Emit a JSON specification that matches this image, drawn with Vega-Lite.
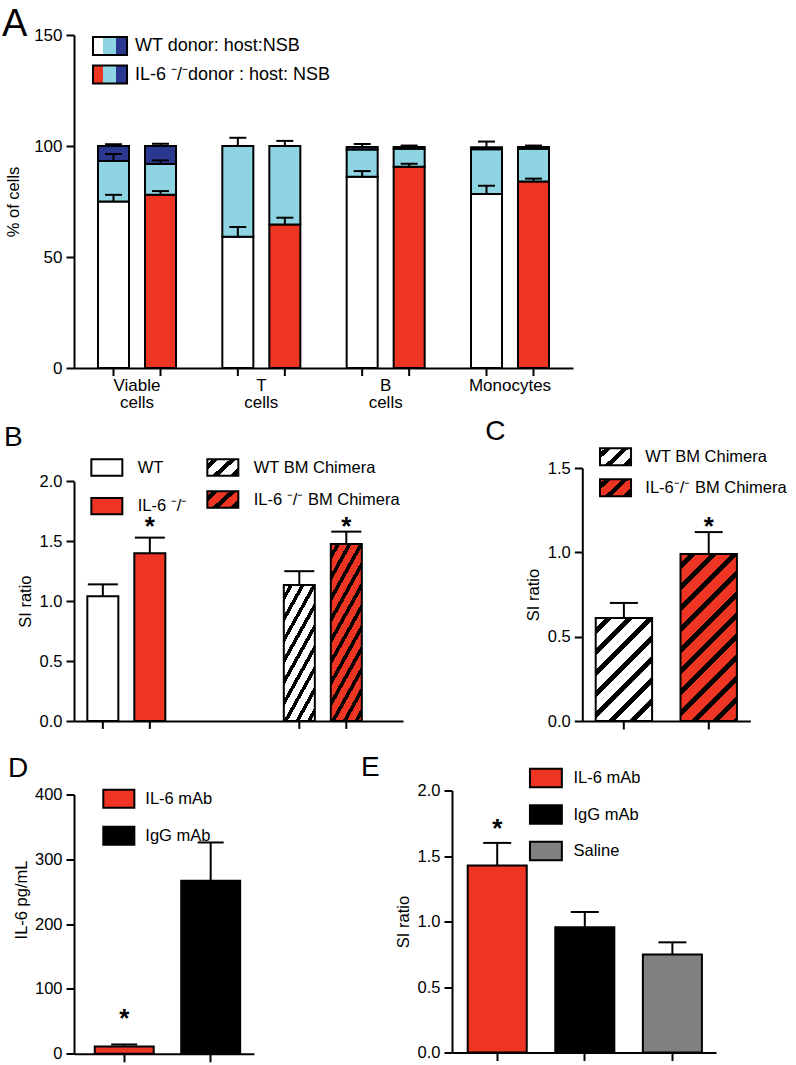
{
  "$schema": "https://vega.github.io/schema/vega-lite/v6.json",
  "background": "white",
  "padding": {"left": 2, "top": 5, "right": 0, "bottom": 0},
  "config": {
    "view": {"stroke": null},
    "font": "Liberation Sans",
    "axis": {"domainColor": "#000", "domainWidth": 2, "tickColor": "#000", "tickWidth": 2, "tickSize": 8, "labelColor": "#000", "labelFont": "Liberation Sans", "labelFontSize": 16.5, "labelPadding": 4, "titleFont": "Liberation Sans", "titleFontSize": 16.5, "titleFontWeight": "normal", "titleColor": "#000", "grid": false},
    "legend": {"labelFont": "Liberation Sans", "labelFontSize": 16.5, "labelColor": "#000", "labelLimit": 400, "symbolStrokeWidth": 2, "padding": 0},
    "title": {"font": "Liberation Sans", "fontWeight": "normal", "color": "#000", "anchor": "start", "frame": "group"}
  },
  "spacing": 23.5,
  "resolve": {"scale": {"fill": "independent", "shape": "independent", "color": "independent"}, "legend": {"fill": "independent", "shape": "independent", "color": "independent"}},
  "vconcat": [
    {
      "spacing": 7,
      "resolve": {"scale": {"fill": "independent", "shape": "independent", "color": "independent"}, "legend": {"fill": "independent", "shape": "independent", "color": "independent"}},
      "vconcat": [
        {
          "width": 499, "height": 333,
          "title": {"text": "A", "fontSize": 38, "dx": -72, "offset": -17.5},
          "data": {"values": [
            {"cell": "Viable cells", "donor": "WT", "seg": "WT donor", "lo": 0, "hi": 75, "err": 78},
            {"cell": "Viable cells", "donor": "WT", "seg": "host", "lo": 75, "hi": 93.2, "err": 96.4},
            {"cell": "Viable cells", "donor": "WT", "seg": "NSB", "lo": 93.2, "hi": 100, "err": 100.8},
            {"cell": "Viable cells", "donor": "IL-6", "seg": "IL-6 donor", "lo": 0, "hi": 78, "err": 79.7},
            {"cell": "Viable cells", "donor": "IL-6", "seg": "host", "lo": 78, "hi": 91.9, "err": 93.5},
            {"cell": "Viable cells", "donor": "IL-6", "seg": "NSB", "lo": 91.9, "hi": 100, "err": 101},
            {"cell": "T cells", "donor": "WT", "seg": "WT donor", "lo": 0, "hi": 59.1, "err": 63.5},
            {"cell": "T cells", "donor": "WT", "seg": "host", "lo": 59.1, "hi": 100, "err": 103.7},
            {"cell": "T cells", "donor": "IL-6", "seg": "IL-6 donor", "lo": 0, "hi": 64.6, "err": 67.7},
            {"cell": "T cells", "donor": "IL-6", "seg": "host", "lo": 64.6, "hi": 100, "err": 102.3},
            {"cell": "B cells", "donor": "WT", "seg": "WT donor", "lo": 0, "hi": 86.2, "err": 88.7},
            {"cell": "B cells", "donor": "WT", "seg": "host", "lo": 86.2, "hi": 98.4, "err": null},
            {"cell": "B cells", "donor": "WT", "seg": "NSB", "lo": 98.4, "hi": 99.5, "err": 100.9},
            {"cell": "B cells", "donor": "IL-6", "seg": "IL-6 donor", "lo": 0, "hi": 90.7, "err": 92},
            {"cell": "B cells", "donor": "IL-6", "seg": "host", "lo": 90.7, "hi": 98.8, "err": null},
            {"cell": "B cells", "donor": "IL-6", "seg": "NSB", "lo": 98.8, "hi": 99.6, "err": 100.2},
            {"cell": "Monocytes", "donor": "WT", "seg": "WT donor", "lo": 0, "hi": 78.4, "err": 82.1},
            {"cell": "Monocytes", "donor": "WT", "seg": "host", "lo": 78.4, "hi": 98.5, "err": null},
            {"cell": "Monocytes", "donor": "WT", "seg": "NSB", "lo": 98.5, "hi": 99.4, "err": 102},
            {"cell": "Monocytes", "donor": "IL-6", "seg": "IL-6 donor", "lo": 0, "hi": 84, "err": 85.3},
            {"cell": "Monocytes", "donor": "IL-6", "seg": "host", "lo": 84, "hi": 98.8, "err": null},
            {"cell": "Monocytes", "donor": "IL-6", "seg": "NSB", "lo": 98.8, "hi": 99.6, "err": 100.2}
          ]},
          "encoding": {
            "x": {"field": "cell", "type": "nominal", "scale": {"domain": ["Viable cells", "T cells", "B cells", "Monocytes"], "paddingInner": 0.3725, "paddingOuter": 0.193}, "axis": {"title": null, "ticks": false, "tickSize": 0, "labelAngle": 0, "labelFontSize": 17, "labelPadding": 9, "labelLineHeight": 17, "labelExpr": "split(datum.label, ' ')"}},
            "xOffset": {"field": "donor", "type": "nominal", "scale": {"domain": ["WT", "IL-6"], "paddingInner": 0.34, "paddingOuter": 0}}
          },
          "resolve": {"scale": {"shape": "independent"}, "legend": {"shape": "independent"}},
          "layer": [
            {"mark": {"type": "bar", "stroke": "#000", "strokeWidth": 2, "opacity": 1},
             "encoding": {
               "y": {"field": "lo", "type": "quantitative", "stack": null, "scale": {"domain": [0, 150], "nice": false}, "axis": {"title": "% of cells", "values": [0, 50, 100, 150], "titlePadding": 12, "labelFontSize": 17}},
               "y2": {"field": "hi"},
               "color": {"field": "seg", "type": "nominal", "scale": {"domain": ["WT donor", "IL-6 donor", "host", "NSB"], "range": ["#ffffff", "#ee3524", "#8ed4e3", "#2b388f"]}, "legend": null}
             }},
            {"transform": [{"filter": "isValid(datum.err)"}],
             "mark": {"type": "rule", "strokeWidth": 2, "color": "#000"},
             "encoding": {"y": {"field": "hi", "type": "quantitative", "scale": {"domain": [0, 150], "nice": false}}, "y2": {"field": "err"}}},
            {"transform": [{"filter": "isValid(datum.err)"}],
             "mark": {"type": "tick", "size": 17, "thickness": 2, "color": "#000", "opacity": 1},
             "encoding": {"y": {"field": "err", "type": "quantitative", "scale": {"domain": [0, 150], "nice": false}}}},
            {"transform": [{"filter": "datum.lo == 0"}],
             "mark": {"type": "rule", "strokeWidth": 2, "color": "#000"},
             "encoding": {"y": {"datum": 0, "type": "quantitative", "scale": {"domain": [0, 150], "nice": false}}, "y2": {"datum": -3.6}}},
            {"transform": [{"filter": "false"}],
             "mark": {"type": "point", "filled": true, "opacity": 1, "stroke": "#000", "strokeWidth": 2,
               "fill": {"gradient": "linear", "x1": 0, "y1": 0, "x2": 1, "y2": 0, "stops": [{"offset": 0, "color": "#ffffff"}, {"offset": 0.29, "color": "#ffffff"}, {"offset": 0.29, "color": "#8ed4e3"}, {"offset": 0.67, "color": "#8ed4e3"}, {"offset": 0.67, "color": "#2b388f"}, {"offset": 1, "color": "#2b388f"}]}},
             "encoding": {
               "shape": {"field": "seg", "type": "nominal", "scale": {"domain": ["WT donor: host:NSB"], "range": ["M-1,-1H2.78V1H-1Z"]},
                 "legend": {"orient": "none", "legendX": 18, "legendY": 1, "title": null, "symbolSize": 324, "labelFontSize": 18, "labelOffset": 23}}
             }},
            {"transform": [{"filter": "false"}],
             "mark": {"type": "point", "filled": true, "opacity": 1, "stroke": "#000", "strokeWidth": 2,
               "fill": {"gradient": "linear", "x1": 0, "y1": 0, "x2": 1, "y2": 0, "stops": [{"offset": 0, "color": "#ee3524"}, {"offset": 0.29, "color": "#ee3524"}, {"offset": 0.29, "color": "#8ed4e3"}, {"offset": 0.67, "color": "#8ed4e3"}, {"offset": 0.67, "color": "#2b388f"}, {"offset": 1, "color": "#2b388f"}]}},
             "encoding": {
               "shape": {"field": "seg", "type": "nominal", "scale": {"domain": ["IL-6 ⁻/⁻donor : host: NSB"], "range": ["M-1,-1H2.78V1H-1Z"]},
                 "legend": {"orient": "none", "legendX": 18, "legendY": 29.5, "title": null, "symbolSize": 324, "labelFontSize": 18, "labelOffset": 23}}
             }}
          ]
        },
        {
          "spacing": 179.3,
          "bounds": "flush",
          "center": true,
          "resolve": {"scale": {"fill": "independent", "shape": "independent", "color": "independent"}, "legend": {"fill": "independent", "shape": "independent", "color": "independent"}},
          "hconcat": [
            {
              "width": 329, "height": 253,
              "title": {"text": "B", "fontSize": 28, "dx": -70, "offset": 6},
              "data": {"values": [
                {"cond": "plain", "geno": "WT", "grp": "WT", "v": 1.04, "err": 1.14},
                {"cond": "plain", "geno": "IL-6", "grp": "IL-6 ⁻/⁻", "v": 1.40, "err": 1.53, "star": 1.68},
                {"cond": "BM", "geno": "WT", "grp": "WT BM Chimera", "v": 1.135, "err": 1.25},
                {"cond": "BM", "geno": "IL-6", "grp": "IL-6 ⁻/⁻ BM Chimera", "v": 1.476, "err": 1.58, "star": 1.68}
              ]},
              "encoding": {
                "x": {"field": "cond", "type": "nominal", "scale": {"domain": ["plain", "BM"], "paddingInner": 0.4275, "paddingOuter": 0.051, "align": 0.665}, "axis": {"title": null, "labels": false, "ticks": false, "tickSize": 0}},
                "xOffset": {"field": "geno", "type": "nominal", "scale": {"domain": ["WT", "IL-6"], "paddingInner": 0, "paddingOuter": 0}}
              },
              "resolve": {"scale": {"shape": "independent"}, "legend": {"shape": "independent"}},
              "layer": [
                {"transform": [{"filter": "datum.cond == 'plain'"}],
                 "mark": {"type": "bar", "stroke": "#000", "strokeWidth": 2, "opacity": 1},
                 "encoding": {
                   "y": {"field": "v", "type": "quantitative", "stack": null, "scale": {"domain": [0, 2], "nice": false, "range": [253, 13.3]}, "axis": {"title": "SI ratio", "values": [0, 0.5, 1, 1.5, 2], "format": ".1f", "titlePadding": 6}},
                   "fill": {"field": "grp", "type": "nominal",
                     "scale": {"domain": ["WT", "IL-6 ⁻/⁻"], "range": ["#ffffff", "#ee3524"]},
                     "legend": {"orient": "none", "legendX": 16, "legendY": -10, "title": null, "symbolType": "M-1,-1H2.8V1H-1Z", "symbolSize": 266, "symbolStrokeColor": "#000", "labelOffset": 28.7, "rowPadding": 13.7}}
                 }},
                {"transform": [{"filter": "datum.cond == 'BM' && datum.geno == 'WT'"}],
                 "mark": {"type": "bar", "stroke": "#000", "strokeWidth": 2, "opacity": 1,
                   "fill": {"gradient": "linear", "x1": 0, "y1": 0, "x2": 0.4963, "y2": 1.2072, "stops": [
                     {"offset": 0, "color": "#fff"},
                     {"offset": 0.05, "color": "#fff"}, {"offset": 0.05, "color": "#000"}, {"offset": 0.088, "color": "#000"}, {"offset": 0.088, "color": "#fff"},
                     {"offset": 0.159, "color": "#fff"}, {"offset": 0.159, "color": "#000"}, {"offset": 0.198, "color": "#000"}, {"offset": 0.198, "color": "#fff"},
                     {"offset": 0.269, "color": "#fff"}, {"offset": 0.269, "color": "#000"}, {"offset": 0.307, "color": "#000"}, {"offset": 0.307, "color": "#fff"},
                     {"offset": 0.378, "color": "#fff"}, {"offset": 0.378, "color": "#000"}, {"offset": 0.416, "color": "#000"}, {"offset": 0.416, "color": "#fff"},
                     {"offset": 0.487, "color": "#fff"}, {"offset": 0.487, "color": "#000"}, {"offset": 0.526, "color": "#000"}, {"offset": 0.526, "color": "#fff"},
                     {"offset": 0.597, "color": "#fff"}, {"offset": 0.597, "color": "#000"}, {"offset": 0.635, "color": "#000"}, {"offset": 0.635, "color": "#fff"},
                     {"offset": 0.706, "color": "#fff"}, {"offset": 0.706, "color": "#000"}, {"offset": 0.744, "color": "#000"}, {"offset": 0.744, "color": "#fff"},
                     {"offset": 0.815, "color": "#fff"}, {"offset": 0.815, "color": "#000"}, {"offset": 0.854, "color": "#000"}, {"offset": 0.854, "color": "#fff"},
                     {"offset": 0.925, "color": "#fff"}, {"offset": 0.925, "color": "#000"}, {"offset": 0.963, "color": "#000"}, {"offset": 0.963, "color": "#fff"},
                     {"offset": 1, "color": "#fff"}]}},
                 "encoding": {"y": {"field": "v", "type": "quantitative", "stack": null, "scale": {"domain": [0, 2], "nice": false, "range": [253, 13.3]}}}},
                {"transform": [{"filter": "datum.cond == 'BM' && datum.geno == 'IL-6'"}],
                 "mark": {"type": "bar", "stroke": "#000", "strokeWidth": 2, "opacity": 1,
                   "fill": {"gradient": "linear", "x1": 0, "y1": 0, "x2": 0.3784, "y2": 1.1966, "stops": [
                     {"offset": 0, "color": "#ee3524"},
                     {"offset": 0.04, "color": "#ee3524"}, {"offset": 0.04, "color": "#000"}, {"offset": 0.072, "color": "#000"}, {"offset": 0.072, "color": "#ee3524"},
                     {"offset": 0.13, "color": "#ee3524"}, {"offset": 0.13, "color": "#000"}, {"offset": 0.162, "color": "#000"}, {"offset": 0.162, "color": "#ee3524"},
                     {"offset": 0.22, "color": "#ee3524"}, {"offset": 0.22, "color": "#000"}, {"offset": 0.252, "color": "#000"}, {"offset": 0.252, "color": "#ee3524"},
                     {"offset": 0.31, "color": "#ee3524"}, {"offset": 0.31, "color": "#000"}, {"offset": 0.342, "color": "#000"}, {"offset": 0.342, "color": "#ee3524"},
                     {"offset": 0.4, "color": "#ee3524"}, {"offset": 0.4, "color": "#000"}, {"offset": 0.432, "color": "#000"}, {"offset": 0.432, "color": "#ee3524"},
                     {"offset": 0.491, "color": "#ee3524"}, {"offset": 0.491, "color": "#000"}, {"offset": 0.523, "color": "#000"}, {"offset": 0.523, "color": "#ee3524"},
                     {"offset": 0.581, "color": "#ee3524"}, {"offset": 0.581, "color": "#000"}, {"offset": 0.613, "color": "#000"}, {"offset": 0.613, "color": "#ee3524"},
                     {"offset": 0.671, "color": "#ee3524"}, {"offset": 0.671, "color": "#000"}, {"offset": 0.703, "color": "#000"}, {"offset": 0.703, "color": "#ee3524"},
                     {"offset": 0.761, "color": "#ee3524"}, {"offset": 0.761, "color": "#000"}, {"offset": 0.793, "color": "#000"}, {"offset": 0.793, "color": "#ee3524"},
                     {"offset": 0.851, "color": "#ee3524"}, {"offset": 0.851, "color": "#000"}, {"offset": 0.883, "color": "#000"}, {"offset": 0.883, "color": "#ee3524"},
                     {"offset": 0.941, "color": "#ee3524"}, {"offset": 0.941, "color": "#000"}, {"offset": 0.973, "color": "#000"}, {"offset": 0.973, "color": "#ee3524"},
                     {"offset": 1, "color": "#ee3524"}]}},
                 "encoding": {"y": {"field": "v", "type": "quantitative", "stack": null, "scale": {"domain": [0, 2], "nice": false, "range": [253, 13.3]}}}},
                {"mark": {"type": "rule", "strokeWidth": 2, "color": "#000"},
                 "encoding": {"y": {"field": "v", "type": "quantitative", "scale": {"domain": [0, 2], "nice": false, "range": [253, 13.3]}}, "y2": {"field": "err"}}},
                {"mark": {"type": "tick", "size": 30, "thickness": 2, "color": "#000", "opacity": 1},
                 "encoding": {"y": {"field": "err", "type": "quantitative", "scale": {"domain": [0, 2], "nice": false, "range": [253, 13.3]}}}},
                {"transform": [{"filter": "isValid(datum.star)"}],
                 "mark": {"type": "text", "text": "*", "fontSize": 26, "fontWeight": "bold", "baseline": "middle", "dy": 7, "color": "#000"},
                 "encoding": {"y": {"field": "star", "type": "quantitative", "scale": {"domain": [0, 2], "nice": false, "range": [253, 13.3]}}}},
                {"mark": {"type": "rule", "strokeWidth": 2, "color": "#000"},
                 "encoding": {"y": {"datum": 0, "type": "quantitative", "scale": {"domain": [0, 2], "nice": false, "range": [253, 13.3]}}, "y2": {"datum": -0.066}}},
                {"transform": [{"filter": "false"}],
                 "mark": {"type": "point", "filled": true, "opacity": 1, "stroke": "#000", "strokeWidth": 2,
                   "fill": {"gradient": "linear", "x1": 0, "y1": 0, "x2": 1.182, "y2": 0.686, "stops": [{"offset": 0, "color": "#fff"}, {"offset": 0.1, "color": "#fff"}, {"offset": 0.1, "color": "#000"}, {"offset": 0.23, "color": "#000"}, {"offset": 0.23, "color": "#fff"}, {"offset": 0.46, "color": "#fff"}, {"offset": 0.46, "color": "#000"}, {"offset": 0.59, "color": "#000"}, {"offset": 0.59, "color": "#fff"}, {"offset": 0.82, "color": "#fff"}, {"offset": 0.82, "color": "#000"}, {"offset": 0.95, "color": "#000"}, {"offset": 0.95, "color": "#fff"}, {"offset": 1, "color": "#fff"}]}},
                 "encoding": {"shape": {"field": "grp", "type": "nominal", "scale": {"domain": ["WT BM Chimera"], "range": ["M-1,-1H2.8V1H-1Z"]},
                   "legend": {"orient": "none", "legendX": 132, "legendY": -10, "title": null, "symbolSize": 266, "labelOffset": 28.7}}}},
                {"transform": [{"filter": "false"}],
                 "mark": {"type": "point", "filled": true, "opacity": 1, "stroke": "#000", "strokeWidth": 2,
                   "fill": {"gradient": "linear", "x1": 0, "y1": 0, "x2": 1.182, "y2": 0.686, "stops": [{"offset": 0, "color": "#ee3524"}, {"offset": 0.1, "color": "#ee3524"}, {"offset": 0.1, "color": "#000"}, {"offset": 0.23, "color": "#000"}, {"offset": 0.23, "color": "#ee3524"}, {"offset": 0.46, "color": "#ee3524"}, {"offset": 0.46, "color": "#000"}, {"offset": 0.59, "color": "#000"}, {"offset": 0.59, "color": "#ee3524"}, {"offset": 0.82, "color": "#ee3524"}, {"offset": 0.82, "color": "#000"}, {"offset": 0.95, "color": "#000"}, {"offset": 0.95, "color": "#ee3524"}, {"offset": 1, "color": "#ee3524"}]}},
                 "encoding": {"shape": {"field": "grp", "type": "nominal", "scale": {"domain": ["IL-6 ⁻/⁻ BM Chimera"], "range": ["M-1,-1H2.8V1H-1Z"]},
                   "legend": {"orient": "none", "legendX": 132, "legendY": 22, "title": null, "symbolSize": 266, "labelOffset": 28.7}}}}
              ]
            },
            {
              "width": 168, "height": 253,
              "title": {"text": "C", "fontSize": 28, "dx": -97, "offset": 1.7},
              "data": {"values": [
                {"geno": "WT", "grp": "WT BM Chimera", "v": 0.61, "err": 0.70},
                {"geno": "IL-6", "grp": "IL-6⁻/⁻ BM Chimera", "v": 0.99, "err": 1.12, "star": 1.19}
              ]},
              "encoding": {
                "x": {"field": "geno", "type": "nominal", "scale": {"domain": ["WT", "IL-6"], "paddingInner": 0.335, "paddingOuter": 0.158}, "axis": {"title": null, "labels": false}}
              },
              "resolve": {"scale": {"shape": "independent"}, "legend": {"shape": "independent"}},
              "layer": [
                {"transform": [{"filter": "datum.geno == 'WT'"}],
                 "mark": {"type": "bar", "stroke": "#000", "strokeWidth": 2, "opacity": 1,
                   "fill": {"gradient": "linear", "x1": 0, "y1": 0, "x2": 0.6536, "y2": 1.1903, "stops": [
                     {"offset": 0, "color": "#fff"},
                     {"offset": 0.06, "color": "#fff"}, {"offset": 0.06, "color": "#000"}, {"offset": 0.106, "color": "#000"}, {"offset": 0.106, "color": "#fff"},
                     {"offset": 0.192, "color": "#fff"}, {"offset": 0.192, "color": "#000"}, {"offset": 0.238, "color": "#000"}, {"offset": 0.238, "color": "#fff"},
                     {"offset": 0.323, "color": "#fff"}, {"offset": 0.323, "color": "#000"}, {"offset": 0.369, "color": "#000"}, {"offset": 0.369, "color": "#fff"},
                     {"offset": 0.455, "color": "#fff"}, {"offset": 0.455, "color": "#000"}, {"offset": 0.501, "color": "#000"}, {"offset": 0.501, "color": "#fff"},
                     {"offset": 0.587, "color": "#fff"}, {"offset": 0.587, "color": "#000"}, {"offset": 0.633, "color": "#000"}, {"offset": 0.633, "color": "#fff"},
                     {"offset": 0.719, "color": "#fff"}, {"offset": 0.719, "color": "#000"}, {"offset": 0.765, "color": "#000"}, {"offset": 0.765, "color": "#fff"},
                     {"offset": 0.85, "color": "#fff"}, {"offset": 0.85, "color": "#000"}, {"offset": 0.896, "color": "#000"}, {"offset": 0.896, "color": "#fff"},
                     {"offset": 0.982, "color": "#fff"}, {"offset": 0.982, "color": "#000"}, {"offset": 1, "color": "#000"}]}},
                 "encoding": {"y": {"field": "v", "type": "quantitative", "stack": null, "scale": {"domain": [0, 1.5], "nice": false}, "axis": {"title": "SI ratio", "values": [0, 0.5, 1, 1.5], "format": ".1f", "titlePadding": 6}}}},
                {"transform": [{"filter": "datum.geno == 'IL-6'"}],
                 "mark": {"type": "bar", "stroke": "#000", "strokeWidth": 2, "opacity": 1,
                   "fill": {"gradient": "linear", "x1": 0, "y1": 0, "x2": 0.4063, "y2": 1.2009, "stops": [
                     {"offset": 0, "color": "#ee3524"},
                     {"offset": 0.04, "color": "#ee3524"}, {"offset": 0.04, "color": "#000"}, {"offset": 0.073, "color": "#000"}, {"offset": 0.073, "color": "#ee3524"},
                     {"offset": 0.134, "color": "#ee3524"}, {"offset": 0.134, "color": "#000"}, {"offset": 0.167, "color": "#000"}, {"offset": 0.167, "color": "#ee3524"},
                     {"offset": 0.228, "color": "#ee3524"}, {"offset": 0.228, "color": "#000"}, {"offset": 0.261, "color": "#000"}, {"offset": 0.261, "color": "#ee3524"},
                     {"offset": 0.322, "color": "#ee3524"}, {"offset": 0.322, "color": "#000"}, {"offset": 0.355, "color": "#000"}, {"offset": 0.355, "color": "#ee3524"},
                     {"offset": 0.416, "color": "#ee3524"}, {"offset": 0.416, "color": "#000"}, {"offset": 0.449, "color": "#000"}, {"offset": 0.449, "color": "#ee3524"},
                     {"offset": 0.51, "color": "#ee3524"}, {"offset": 0.51, "color": "#000"}, {"offset": 0.543, "color": "#000"}, {"offset": 0.543, "color": "#ee3524"},
                     {"offset": 0.604, "color": "#ee3524"}, {"offset": 0.604, "color": "#000"}, {"offset": 0.637, "color": "#000"}, {"offset": 0.637, "color": "#ee3524"},
                     {"offset": 0.698, "color": "#ee3524"}, {"offset": 0.698, "color": "#000"}, {"offset": 0.731, "color": "#000"}, {"offset": 0.731, "color": "#ee3524"},
                     {"offset": 0.792, "color": "#ee3524"}, {"offset": 0.792, "color": "#000"}, {"offset": 0.825, "color": "#000"}, {"offset": 0.825, "color": "#ee3524"},
                     {"offset": 0.886, "color": "#ee3524"}, {"offset": 0.886, "color": "#000"}, {"offset": 0.919, "color": "#000"}, {"offset": 0.919, "color": "#ee3524"},
                     {"offset": 0.98, "color": "#ee3524"}, {"offset": 0.98, "color": "#000"}, {"offset": 1, "color": "#000"}]}},
                 "encoding": {"y": {"field": "v", "type": "quantitative", "stack": null, "scale": {"domain": [0, 1.5], "nice": false}}}},
                {"mark": {"type": "rule", "strokeWidth": 2, "color": "#000"},
                 "encoding": {"y": {"field": "v", "type": "quantitative", "scale": {"domain": [0, 1.5], "nice": false}}, "y2": {"field": "err"}}},
                {"mark": {"type": "tick", "size": 28, "thickness": 2, "color": "#000", "opacity": 1},
                 "encoding": {"y": {"field": "err", "type": "quantitative", "scale": {"domain": [0, 1.5], "nice": false}}}},
                {"transform": [{"filter": "isValid(datum.star)"}],
                 "mark": {"type": "text", "text": "*", "fontSize": 26, "fontWeight": "bold", "baseline": "middle", "dy": 7, "color": "#000"},
                 "encoding": {"y": {"field": "star", "type": "quantitative", "scale": {"domain": [0, 1.5], "nice": false}}}},
                {"transform": [{"filter": "false"}],
                 "mark": {"type": "point", "filled": true, "opacity": 1, "stroke": "#000", "strokeWidth": 2,
                   "fill": {"gradient": "linear", "x1": 0, "y1": 0, "x2": 1.182, "y2": 0.686, "stops": [{"offset": 0, "color": "#fff"}, {"offset": 0.1, "color": "#fff"}, {"offset": 0.1, "color": "#000"}, {"offset": 0.23, "color": "#000"}, {"offset": 0.23, "color": "#fff"}, {"offset": 0.46, "color": "#fff"}, {"offset": 0.46, "color": "#000"}, {"offset": 0.59, "color": "#000"}, {"offset": 0.59, "color": "#fff"}, {"offset": 0.82, "color": "#fff"}, {"offset": 0.82, "color": "#000"}, {"offset": 0.95, "color": "#000"}, {"offset": 0.95, "color": "#fff"}, {"offset": 1, "color": "#fff"}]}},
                 "encoding": {"shape": {"field": "grp", "type": "nominal", "scale": {"domain": ["WT BM Chimera"], "range": ["M-1,-1H2.65V1H-1Z"]},
                   "legend": {"orient": "none", "legendX": 16.7, "legendY": -20.8, "title": null, "symbolSize": 289, "labelOffset": 27.3}}}},
                {"transform": [{"filter": "false"}],
                 "mark": {"type": "point", "filled": true, "opacity": 1, "stroke": "#000", "strokeWidth": 2,
                   "fill": {"gradient": "linear", "x1": 0, "y1": 0, "x2": 1.182, "y2": 0.686, "stops": [{"offset": 0, "color": "#ee3524"}, {"offset": 0.1, "color": "#ee3524"}, {"offset": 0.1, "color": "#000"}, {"offset": 0.23, "color": "#000"}, {"offset": 0.23, "color": "#ee3524"}, {"offset": 0.46, "color": "#ee3524"}, {"offset": 0.46, "color": "#000"}, {"offset": 0.59, "color": "#000"}, {"offset": 0.59, "color": "#ee3524"}, {"offset": 0.82, "color": "#ee3524"}, {"offset": 0.82, "color": "#000"}, {"offset": 0.95, "color": "#000"}, {"offset": 0.95, "color": "#ee3524"}, {"offset": 1, "color": "#ee3524"}]}},
                 "encoding": {"shape": {"field": "grp", "type": "nominal", "scale": {"domain": ["IL-6⁻/⁻ BM Chimera"], "range": ["M-1,-1H2.65V1H-1Z"]},
                   "legend": {"orient": "none", "legendX": 16.7, "legendY": 10.2, "title": null, "symbolSize": 289, "labelOffset": 27.3}}}}
              ]
            }
          ]
        }
      ]
    },
    {
      "spacing": 107,
      "align": "none",
      "resolve": {"scale": {"fill": "independent", "shape": "independent", "color": "independent"}, "legend": {"fill": "independent", "shape": "independent", "color": "independent"}},
      "hconcat": [
        {
          "width": 180, "height": 263.3,
          "title": {"text": "D", "fontSize": 28, "dx": -66, "offset": 4},
          "data": {"values": [
            {"trt": "IL-6 mAb", "v": 11.3, "err": 14.4, "star": 64},
            {"trt": "IgG mAb", "v": 267, "err": 326}
          ]},
          "encoding": {
            "x": {"field": "trt", "type": "nominal", "scale": {"domain": ["IL-6 mAb", "IgG mAb"], "paddingInner": 0.318, "paddingOuter": 0.2, "align": 0.6}, "axis": {"title": null, "labels": false}}
          },
          "layer": [
            {"mark": {"type": "bar", "stroke": "#000", "strokeWidth": 2, "opacity": 1},
             "encoding": {
               "y": {"field": "v", "type": "quantitative", "stack": null, "scale": {"domain": [0, 400], "nice": false, "range": [263.3, 4]}, "axis": {"title": "IL-6 pg/mL", "values": [0, 100, 200, 300, 400], "titlePadding": 5, "titleY": 109}},
               "fill": {"field": "trt", "type": "nominal", "scale": {"domain": ["IL-6 mAb", "IgG mAb"], "range": ["#ee3524", "#000000"]},
                 "legend": {"orient": "none", "legendX": 28.3, "legendY": -1.7, "title": null, "symbolType": "M-1,-1H2.45V1H-1Z", "symbolSize": 324, "symbolStrokeColor": "#000", "labelOffset": 23, "rowPadding": 11}}
             }},
            {"mark": {"type": "rule", "strokeWidth": 2, "color": "#000"},
             "encoding": {"y": {"field": "v", "type": "quantitative", "scale": {"domain": [0, 400], "nice": false, "range": [263.3, 4]}}, "y2": {"field": "err"}}},
            {"mark": {"type": "tick", "size": 26, "thickness": 2, "color": "#000", "opacity": 1},
             "encoding": {"y": {"field": "err", "type": "quantitative", "scale": {"domain": [0, 400], "nice": false, "range": [263.3, 4]}}}},
            {"transform": [{"filter": "isValid(datum.star)"}],
             "mark": {"type": "text", "text": "*", "fontSize": 26, "fontWeight": "bold", "baseline": "middle", "dy": 7, "color": "#000"},
             "encoding": {"y": {"field": "star", "type": "quantitative", "scale": {"domain": [0, 400], "nice": false, "range": [263.3, 4]}}}}
          ]
        },
        {
          "width": 264, "height": 262,
          "title": {"text": "E", "fontSize": 28, "dx": -91, "offset": -14},
          "data": {"values": [
            {"trt": "IL-6 mAb", "v": 1.427, "err": 1.60, "star": 1.76},
            {"trt": "IgG mAb", "v": 0.956, "err": 1.073},
            {"trt": "Saline", "v": 0.749, "err": 0.841}
          ]},
          "encoding": {
            "x": {"field": "trt", "type": "nominal", "scale": {"domain": ["IL-6 mAb", "IgG mAb", "Saline"], "paddingInner": 0.326, "paddingOuter": 0.17, "align": 0.527}, "axis": {"title": null, "labels": false}}
          },
          "layer": [
            {"mark": {"type": "bar", "stroke": "#000", "strokeWidth": 2, "opacity": 1},
             "encoding": {
               "y": {"field": "v", "type": "quantitative", "stack": null, "scale": {"domain": [0, 2], "nice": false}, "axis": {"title": "SI ratio", "values": [0, 0.5, 1, 1.5, 2], "format": ".1f", "titlePadding": 6}},
               "fill": {"field": "trt", "type": "nominal", "scale": {"domain": ["IL-6 mAb", "IgG mAb", "Saline"], "range": ["#ee3524", "#000000", "#808080"]},
                 "legend": {"orient": "none", "legendX": 76.7, "legendY": -23, "title": null, "symbolType": "M-1,-1H2.45V1H-1Z", "symbolSize": 342, "symbolStrokeColor": "#000", "labelOffset": 23.8, "rowPadding": 9.5}}
             }},
            {"mark": {"type": "rule", "strokeWidth": 2, "color": "#000"},
             "encoding": {"y": {"field": "v", "type": "quantitative", "scale": {"domain": [0, 2], "nice": false}}, "y2": {"field": "err"}}},
            {"mark": {"type": "tick", "size": 28, "thickness": 2, "color": "#000", "opacity": 1},
             "encoding": {"y": {"field": "err", "type": "quantitative", "scale": {"domain": [0, 2], "nice": false}}}},
            {"transform": [{"filter": "isValid(datum.star)"}],
             "mark": {"type": "text", "text": "*", "fontSize": 26, "fontWeight": "bold", "baseline": "middle", "dy": 7, "color": "#000"},
             "encoding": {"y": {"field": "star", "type": "quantitative", "scale": {"domain": [0, 2], "nice": false}}}}
          ]
        }
      ]
    }
  ]
}
